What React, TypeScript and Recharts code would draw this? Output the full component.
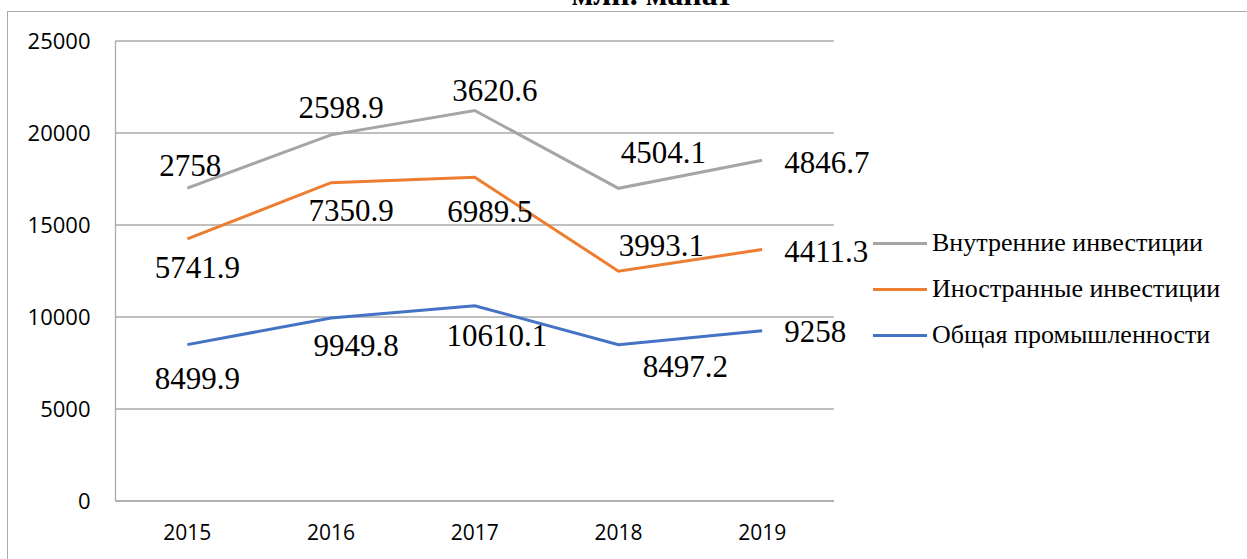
import { Area, AreaChart, CartesianGrid, LabelList, XAxis, YAxis } from 'recharts'

const ANOS = ['2015', '2016', '2017', '2018', '2019']
const PROMYSHLENNOST = [8499.9, 9949.8, 10610.1, 8497.2, 9258]
const INOSTRANNYE = [5741.9, 7350.9, 6989.5, 3993.1, 4411.3]
const VNUTRENNIE = [2758, 2598.9, 3620.6, 4504.1, 4846.7]
const Y_TICKS = [0, 5000, 10000, 15000, 20000, 25000]

const TITULO = 'млн. манат'

// stacked bottom to top; legend lists them top to bottom
const SERIES = [
  { key: 'promyshlennost', nome: 'Общая промышленности', cor: '#4472C4', valores: PROMYSHLENNOST },
  { key: 'inostrannye', nome: 'Иностранные инвестиции', cor: '#ED7D31', valores: INOSTRANNYE },
  { key: 'vnutrennie', nome: 'Внутренние инвестиции', cor: '#A5A5A5', valores: VNUTRENNIE },
] as const

// label nudges from the point: dx, dy (to baseline), anchor
const NUDGE: Record<string, [number, number, 'middle' | 'start'][]> = {
  vnutrennie: [[3, -12.5, 'middle'], [10, -16.5, 'middle'], [20, -9.5, 'middle'], [45, -25.5, 'middle'], [22, 12.5, 'start']],
  inostrannye: [[10, 39.5, 'middle'], [20, 38.5, 'middle'], [15, 44.5, 'middle'], [43, -15.5, 'middle'], [22, 12.5, 'start']],
  promyshlennost: [[10, 44.5, 'middle'], [25, 38.5, 'middle'], [22, 40.5, 'middle'], [67, 32.5, 'middle'], [22, 11.5, 'start']],
}

const dados = ANOS.map((ano, i) => ({
  ano,
  promyshlennost: PROMYSHLENNOST[i],
  inostrannye: INOSTRANNYE[i],
  vnutrennie: VNUTRENNIE[i],
}))

const SERIF = '"Liberation Serif", "Times New Roman", serif'
const SANS = '"Open Sans", "Noto Sans", sans-serif'
const CINZA = '#ABABAB'

function rotulo(serieKey: string, valores: readonly number[]) {
  return (props: any) => {
    const { x, y, index } = props
    if (x == null || y == null) return null
    const [dx, dy, anchor] = NUDGE[serieKey][index]
    return (
      <text
        key={`${serieKey}-${index}`}
        x={Number(x) + dx}
        y={Number(y) + dy}
        textAnchor={anchor}
        fontFamily={SERIF}
        fontSize={31}
        fill="#000"
      >
        {String(valores[index])}
      </text>
    )
  }
}

export default function App() {
  return (
    <div style={{ position: 'absolute', left: 0, top: 0, width: 1247, height: 559, overflow: 'hidden', background: '#fff' }}>
      <div
        style={{
          position: 'absolute',
          left: 7,
          top: 11,
          width: 1400,
          height: 700,
          borderTop: `1.5px solid ${CINZA}`,
          borderLeft: `1.5px solid ${CINZA}`,
        }}
      />
      <svg width={1247} height={40} style={{ position: 'absolute', left: 0, top: 0 }}>
        <text x={652} y={5} textAnchor="middle" fontFamily={SERIF} fontWeight="bold" fontSize={32} fill="#000">
          {TITULO}
        </text>
      </svg>
      <div style={{ position: 'absolute', left: 0, top: 0 }}>
        <AreaChart width={1247} height={559} data={dados} margin={{ top: 41, right: 413, left: 15.5, bottom: 0 }}>
          <CartesianGrid vertical={false} stroke={CINZA} strokeWidth={1.3} />
          <XAxis
            dataKey="ano"
            height={58}
            padding={{ left: 71.85, right: 71.85 }}
            tickLine={false}
            tickSize={0}
            tickMargin={24}
            axisLine={{ stroke: CINZA, strokeWidth: 1.5 }}
            tick={{ fontFamily: SANS, fontSize: 21, fill: '#000' }}
          />
          <YAxis
            width={100}
            domain={[0, 25000]}
            ticks={Y_TICKS}
            tickLine={false}
            tickSize={0}
            tickMargin={25}
            axisLine={{ stroke: CINZA, strokeWidth: 1.3 }}
            tick={{ fontFamily: SANS, fontSize: 22, fill: '#000' }}
          />
          {SERIES.map((s) => (
            <Area
              key={s.key}
              type="linear"
              dataKey={s.key}
              stackId="total"
              stroke={s.cor}
              strokeWidth={3}
              fill="none"
              fillOpacity={0}
              dot={false}
              activeDot={false}
              isAnimationActive={false}
            >
              <LabelList dataKey={s.key} content={rotulo(s.key, s.valores)} />
            </Area>
          ))}
        </AreaChart>
      </div>
      <div style={{ position: 'absolute', left: 873, top: 220, width: 374 }}>
        {[...SERIES].reverse().map((s) => (
          <div key={s.key} style={{ display: 'flex', alignItems: 'center', height: 46 }}>
            <div style={{ width: 54, height: 3, background: s.cor, marginRight: 5 }} />
            <span style={{ fontFamily: SERIF, fontSize: 26, color: '#000', whiteSpace: 'nowrap', lineHeight: '46px' }}>
              {s.nome}
            </span>
          </div>
        ))}
      </div>
    </div>
  )
}
